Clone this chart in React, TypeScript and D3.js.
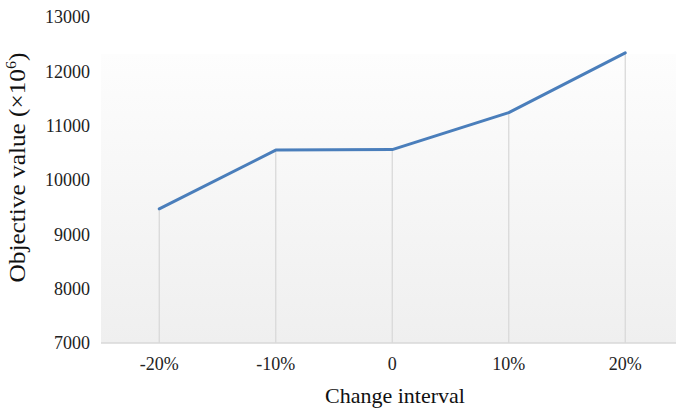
import React from "react";
import * as d3 from "d3";

// Objective value for each change interval
const categories = ["-20%", "-10%", "0", "10%", "20%"];
const objectiveValues = [9470, 10550, 10560, 11240, 12340];
const yTicks = [7000, 8000, 9000, 10000, 11000, 12000, 13000];

const W = 676;
const H = 408;
const plotLeft = 101;
const plotRight = 683.5;
const plotTop = 17;
const plotBottom = 343;
const fillTop = 54;

export default function App() {
  const x = d3
    .scaleBand<string>()
    .domain(categories)
    .range([plotLeft, plotRight])
    .paddingInner(0)
    .paddingOuter(0);
  const y = d3.scaleLinear().domain([7000, 13000]).range([plotBottom, plotTop]);
  const cx = (c: string) => (x(c) as number) + x.bandwidth() / 2;

  const line = d3
    .line<number>()
    .x((_, i) => cx(categories[i]))
    .y((d) => y(d));

  const font = "'Liberation Serif', 'Times New Roman', serif";

  return (
    <svg
      width={W}
      height={H}
      style={{ position: "absolute", left: 0, top: 0, background: "#fff" }}
      fontFamily={font}
    >
      <defs>
        <linearGradient id="plotFill" x1="0" y1="0" x2="0" y2="1">
          <stop offset="0%" stopColor="#fdfdfd" />
          <stop offset="100%" stopColor="#efefef" />
        </linearGradient>
      </defs>
      <rect
        x={plotLeft}
        y={fillTop}
        width={W - plotLeft}
        height={plotBottom - fillTop}
        fill="url(#plotFill)"
      />
      {/* drop lines from each point to the category axis */}
      {objectiveValues.map((v, i) => (
        <line
          key={categories[i]}
          x1={cx(categories[i])}
          x2={cx(categories[i])}
          y1={y(v)}
          y2={plotBottom}
          stroke="#d9d9d9"
          strokeWidth={1.3}
        />
      ))}
      <line
        x1={plotLeft}
        x2={W}
        y1={plotBottom}
        y2={plotBottom}
        stroke="#d9d9d9"
        strokeWidth={1.5}
      />
      <path
        d={line(objectiveValues) ?? ""}
        fill="none"
        stroke="#4a7ebb"
        strokeWidth={3}
        strokeLinejoin="round"
        strokeLinecap="round"
      />
      {yTicks.map((t) => (
        <text
          key={t}
          x={90}
          y={y(t)}
          dy="0.35em"
          textAnchor="end"
          fontSize={18}
          fill="#222"
        >
          {t}
        </text>
      ))}
      {categories.map((c) => (
        <text
          key={c}
          x={cx(c)}
          y={370}
          textAnchor="middle"
          fontSize={18}
          fill="#222"
        >
          {c}
        </text>
      ))}
      <text x={395} y={403} textAnchor="middle" fontSize={22} fill="#111">
        Change interval
      </text>
      <text
        transform={`translate(25, 167.5) rotate(-90)`}
        textAnchor="middle"
        fontSize={23.5}
        fill="#111"
        textLength={230}
        lengthAdjust="spacingAndGlyphs"
      >
        Objective value (×10
        <tspan dy={-9} fontSize={15}>
          6
        </tspan>
        <tspan dy={9}>)</tspan>
      </text>
    </svg>
  );
}
